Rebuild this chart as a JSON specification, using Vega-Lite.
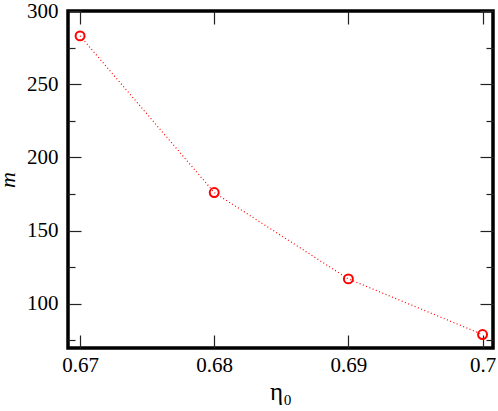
{
  "$schema": "https://vega.github.io/schema/vega-lite/v6.json",
  "width": 425,
  "height": 337,
  "autosize": {"type": "none"},
  "padding": {"left": 68, "top": 11, "right": 5, "bottom": 63},
  "background": "white",
  "config": {
    "view": {"stroke": "black", "strokeWidth": 3.5},
    "axis": {
      "domain": false,
      "grid": false,
      "labelFont": "'Liberation Serif', 'Times New Roman', 'DejaVu Serif', serif",
      "labelFontSize": 21,
      "labelColor": "black",
      "titleFont": "'Liberation Serif', 'Times New Roman', 'DejaVu Serif', serif",
      "titleColor": "black",
      "titleFontWeight": "normal"
    }
  },
  "data": {
    "values": [
      {"eta0": 0.67, "m": 283},
      {"eta0": 0.68, "m": 176},
      {"eta0": 0.69, "m": 117},
      {"eta0": 0.70, "m": 79}
    ]
  },
  "layer": [
    {
      "mark": {"type": "line", "color": "red", "strokeWidth": 1.2, "strokeDash": [1, 2.5]},
      "encoding": {
        "x": {
          "field": "eta0", "type": "quantitative",
          "scale": {"domain": [0.6691, 0.70078], "nice": false, "zero": false},
          "axis": {
            "orient": "bottom",
            "values": [0.67, 0.68, 0.69, 0.7],
            "tickSize": -13,
            "tickColor": "#222222",
            "tickWidth": 1.2,
            "labelPadding": 19,
            "labelExpr": "datum.value == 0.7 ? '0.7' : format(datum.value, '.2f')",
            "title": "η₀",
            "titleFontSize": 25,
            "titlePadding": 4
          }
        },
        "y": {
          "field": "m", "type": "quantitative",
          "scale": {"domain": [69.8, 300], "nice": false, "zero": false},
          "axis": {
            "orient": "left",
            "values": [75, 100, 125, 150, 175, 200, 225, 250, 275, 300],
            "tickSize": {"condition": {"test": "datum.value % 50 != 0", "value": -7}, "value": -13},
            "tickColor": "#222222",
            "tickWidth": 1.2,
            "labelPadding": 23,
            "labelExpr": "datum.value % 50 == 0 ? datum.label : ''",
            "title": "m",
            "titleFontStyle": "italic",
            "titleFontSize": 22,
            "titlePadding": 7
          }
        }
      }
    },
    {
      "mark": {"type": "point", "shape": "circle", "filled": false, "color": "red", "strokeWidth": 2, "size": 80, "opacity": 1},
      "encoding": {
        "x": {
          "field": "eta0", "type": "quantitative",
          "axis": {
            "orient": "top",
            "values": [0.67, 0.68, 0.69, 0.7],
            "labels": false,
            "tickSize": -13,
            "tickColor": "#222222",
            "tickWidth": 1.2,
            "title": null
          }
        },
        "y": {
          "field": "m", "type": "quantitative",
          "axis": {
            "orient": "right",
            "values": [75, 100, 125, 150, 175, 200, 225, 250, 275, 300],
            "labels": false,
            "title": null,
            "tickSize": {"condition": {"test": "datum.value % 50 != 0", "value": -7}, "value": -13},
            "tickColor": "#222222",
            "tickWidth": 1.2
          }
        }
      }
    }
  ],
  "resolve": {"axis": {"x": "independent", "y": "independent"}}
}
